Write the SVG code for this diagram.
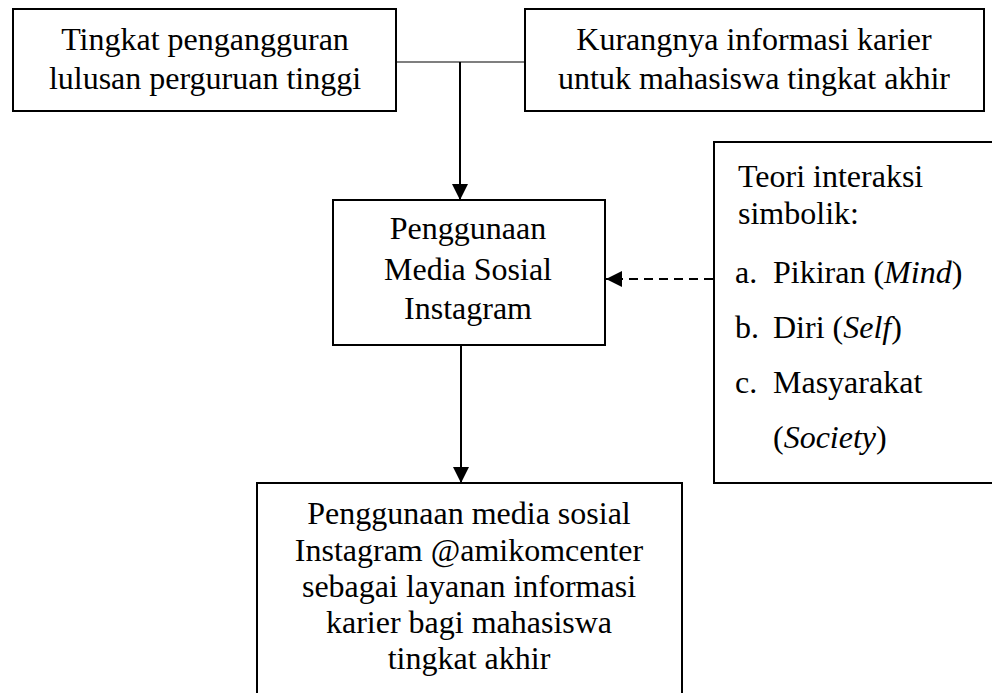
<svg xmlns="http://www.w3.org/2000/svg" width="992" height="693" viewBox="0 0 992 693">
<style>
.box{fill:#fff;stroke:#000;stroke-width:2}
.t{font-family:'Liberation Serif','Times New Roman','DejaVu Serif',serif;font-size:32px;fill:#000}
.c{text-anchor:middle}
.ln{stroke:#000;stroke-width:2;fill:none}
.thin{stroke:#000;stroke-width:1.2;fill:none}
.dash{stroke:#000;stroke-width:2;fill:none;stroke-dasharray:9 6}
</style>
<defs>
<marker id="ah" viewBox="0 0 16 16" refX="16" refY="8" markerWidth="16" markerHeight="16" markerUnits="userSpaceOnUse" orient="auto">
<path d="M0,0 L16,8 L0,16 Z" fill="#000"/>
</marker>
</defs>
<rect width="992" height="693" fill="#fff"/>
<g id="connectors">
<line class="thin" x1="396" y1="62" x2="525" y2="62"/>
<line class="ln" x1="460" y1="62" x2="460" y2="200" marker-end="url(#ah)"/>
<line class="ln" x1="461" y1="346" x2="461" y2="483" marker-end="url(#ah)"/>
<line class="dash" x1="713" y1="279" x2="606" y2="279" marker-end="url(#ah)"/>
</g>
<g id="node-pengangguran" font-family="Liberation Serif, serif">
<rect class="box" x="13" y="9" width="383" height="102"/>
<text class="t c" x="205" y="50">Tingkat pengangguran</text>
<text class="t c" x="205" y="89">lulusan perguruan tinggi</text>
</g>
<g id="node-kurangnya" font-family="Liberation Serif, serif">
<rect class="box" x="525" y="9" width="459" height="102"/>
<text class="t c" x="754" y="50">Kurangnya informasi karier</text>
<text class="t c" x="754" y="89">untuk mahasiswa tingkat akhir</text>
</g>
<g id="node-penggunaan" font-family="Liberation Serif, serif">
<rect class="box" x="333" y="200" width="272" height="145"/>
<text class="t c" x="468" y="239">Penggunaan</text>
<text class="t c" x="468" y="280">Media Sosial</text>
<text class="t c" x="468" y="319">Instagram</text>
</g>
<g id="node-teori" font-family="Liberation Serif, serif">
<rect class="box" x="714" y="142" width="290" height="341"/>
<text class="t" x="738" y="187">Teori interaksi</text>
<text class="t" x="738" y="224">simbolik:</text>
<text class="t" x="735" y="283">a.</text>
<text class="t" x="773" y="283">Pikiran (<tspan font-style="italic">Mind</tspan>)</text>
<text class="t" x="735" y="338">b.</text>
<text class="t" x="773" y="338">Diri (<tspan font-style="italic">Self</tspan>)</text>
<text class="t" x="735" y="393">c.</text>
<text class="t" x="773" y="393">Masyarakat</text>
<text class="t" x="773" y="448">(<tspan font-style="italic">Society</tspan>)</text>
</g>
<g id="node-hasil" font-family="Liberation Serif, serif">
<rect class="box" x="257" y="483" width="425" height="230"/>
<text class="t c" x="469" y="524">Penggunaan media sosial</text>
<text class="t c" x="469" y="561">Instagram @amikomcenter</text>
<text class="t c" x="469" y="597">sebagai layanan informasi</text>
<text class="t c" x="469" y="633">karier bagi mahasiswa</text>
<text class="t c" x="469" y="669">tingkat akhir</text>
</g>
</svg>
